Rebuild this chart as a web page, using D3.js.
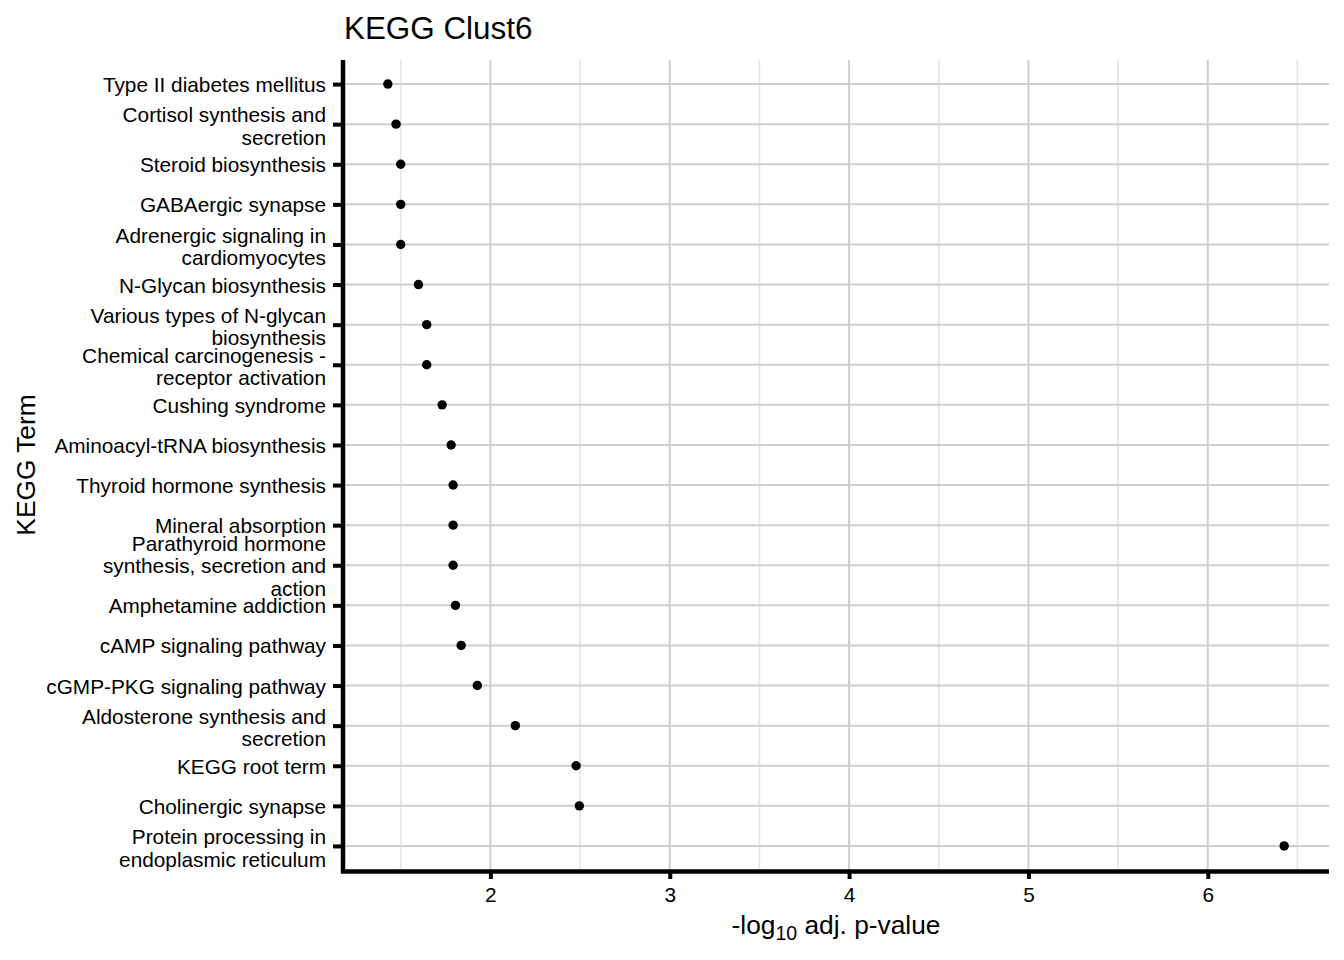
<!DOCTYPE html>
<html>
<head>
<meta charset="utf-8">
<script src="https://cdn.jsdelivr.net/npm/d3@7"></script>
<style>
  html, body { margin: 0; padding: 0; background: #fff; }
  svg { display: block; }
  text { font-family: "Liberation Sans", Arial, sans-serif; fill: #000; }
</style>
</head>
<body>
<svg id="chart" width="1344" height="960"></svg>
<script>
const categories = [
  "Type II diabetes mellitus",
  "Cortisol synthesis and\nsecretion",
  "Steroid biosynthesis",
  "GABAergic synapse",
  "Adrenergic signaling in\ncardiomyocytes",
  "N-Glycan biosynthesis",
  "Various types of N-glycan\nbiosynthesis",
  "Chemical carcinogenesis -\nreceptor activation",
  "Cushing syndrome",
  "Aminoacyl-tRNA biosynthesis",
  "Thyroid hormone synthesis",
  "Mineral absorption",
  "Parathyroid hormone\nsynthesis, secretion and\naction",
  "Amphetamine addiction",
  "cAMP signaling pathway",
  "cGMP-PKG signaling pathway",
  "Aldosterone synthesis and\nsecretion",
  "KEGG root term",
  "Cholinergic synapse",
  "Protein processing in\nendoplasmic reticulum"
];
const values = [1.428, 1.474, 1.500, 1.500, 1.500, 1.599, 1.645, 1.645, 1.731, 1.781,
                 1.792, 1.792, 1.792, 1.805, 1.837, 1.927, 2.139, 2.478, 2.496, 6.426];
const xTicks = [2, 3, 4, 5, 6];
const xMinor = [1.5, 2.5, 3.5, 4.5, 5.5, 6.5];
const title = "KEGG Clust6";
const yTitle = "KEGG Term";

const svg = d3.select("#chart");
const panel = { left: 343, right: 1329, top: 60, bottom: 870 };

const vmin = d3.min(values), vmax = d3.max(values);
const pad = (vmax - vmin) * 0.05;
const x = d3.scaleLinear().domain([vmin - pad, vmax + pad]).range([panel.left, panel.right]);

// discrete y with 0.6 expansion
const n = categories.length;
const step = (panel.bottom - panel.top) / (n - 1 + 1.2);
const y = d3.scalePoint().domain(categories).range([panel.top + 0.6 * step, panel.bottom - 0.6 * step]);

const g = svg.append("g");

// minor vertical grid
g.selectAll("line.minor").data(xMinor.filter(v => x(v) > panel.left && x(v) < panel.right)).enter()
  .append("line")
  .attr("x1", d => x(d)).attr("x2", d => x(d))
  .attr("y1", panel.top).attr("y2", panel.bottom)
  .attr("stroke", "#e5e5e5").attr("stroke-width", 1.6);

// major vertical grid
g.selectAll("line.majorx").data(xTicks).enter()
  .append("line")
  .attr("x1", d => x(d)).attr("x2", d => x(d))
  .attr("y1", panel.top).attr("y2", panel.bottom)
  .attr("stroke", "#cfcfcf").attr("stroke-width", 2);

// major horizontal grid
g.selectAll("line.majory").data(categories).enter()
  .append("line")
  .attr("x1", panel.left).attr("x2", panel.right)
  .attr("y1", d => y(d)).attr("y2", d => y(d))
  .attr("stroke", "#cfcfcf").attr("stroke-width", 2);

// points
g.selectAll("circle").data(values).enter()
  .append("circle")
  .attr("cx", d => x(d))
  .attr("cy", (d, i) => y(categories[i]))
  .attr("r", 4.7)
  .attr("fill", "#000");

// x axis
const xAxis = d3.axisBottom(x).tickValues(xTicks).tickFormat(d3.format("d")).tickSize(9).tickPadding(8);
const xg = svg.append("g").attr("transform", `translate(0,${panel.bottom})`).call(xAxis);
xg.select(".domain").remove();
xg.selectAll(".tick line").attr("stroke", "#000").attr("stroke-width", 4);
xg.selectAll(".tick text").attr("font-size", 20.8).attr("fill", "#000")
  .attr("font-family", "Liberation Sans, Arial, sans-serif");
svg.append("line").attr("x1", panel.left - 2).attr("x2", panel.right)
  .attr("y1", panel.bottom + 1.5).attr("y2", panel.bottom + 1.5)
  .attr("stroke", "#000").attr("stroke-width", 4.5);

// y axis
const yAxis = d3.axisLeft(y).tickSize(10).tickPadding(6).tickFormat("");
const yg = svg.append("g").attr("transform", `translate(${panel.left},0)`).call(yAxis);
yg.select(".domain").remove();
yg.selectAll(".tick line").attr("stroke", "#000").attr("stroke-width", 4);
svg.append("line").attr("x1", panel.left).attr("x2", panel.left)
  .attr("y1", panel.top).attr("y2", panel.bottom + 3)
  .attr("stroke", "#000").attr("stroke-width", 4.5);

// y tick labels (multi-line)
const lh = 22.4;
yg.selectAll(".tick").each(function(d) {
  const lines = d.split("\n");
  const extra = lines.length === 2 ? 1.5 : 0;
  const t = d3.select(this).append("text")
    .attr("x", -17).attr("text-anchor", "end")
    .attr("font-size", 20.8).attr("fill", "#000")
    .attr("font-family", "Liberation Sans, Arial, sans-serif");
  lines.forEach((ln, i) => {
    t.append("tspan").attr("x", -17)
      .attr("y", (i - (lines.length - 1) / 2) * lh + 7.5 + extra)
      .text(ln);
  });
});

// title
svg.append("text").attr("x", 344).attr("y", 39)
  .attr("font-size", 31.4).text(title);

// x axis title with subscript
const xt = svg.append("text").attr("x", (panel.left + panel.right) / 2).attr("y", 934)
  .attr("text-anchor", "middle").attr("font-size", 26.3);
xt.append("tspan").text("-log");
xt.append("tspan").attr("font-size", 19.5).attr("dy", 6).text("10");
xt.append("tspan").attr("dy", -6).text(" adj. p-value");

// y axis title
svg.append("text")
  .attr("transform", `translate(35,${(panel.top + panel.bottom) / 2}) rotate(-90)`)
  .attr("text-anchor", "middle").attr("font-size", 26.3).text(yTitle);
</script>
</body>
</html>
